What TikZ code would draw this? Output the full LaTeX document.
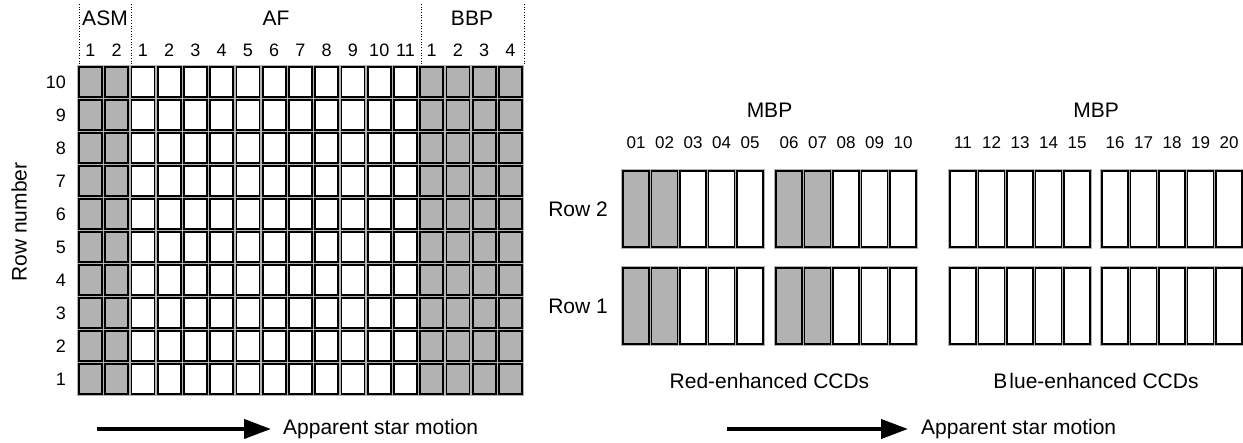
\documentclass[tikz,border=0pt]{standalone}
\usepackage{fontspec}
\setmainfont{Liberation Sans}
\usetikzlibrary{arrows.meta}
\newcommand\bigf{\fontsize{21}{25}\selectfont}
\newcommand\numf{\fontsize{18}{22}\selectfont}
\newcommand\mbpf{\fontsize{17}{20}\selectfont}
\definecolor{ccdgray}{RGB}{178,178,178}
\tikzset{
  cellbox/.style={draw=black, line width=1.6pt, inner sep=0pt, outer sep=0pt, anchor=north west,
    preaction={draw=black!30, line width=3.6pt}},
  grid cell/.style={cellbox, minimum width=23pt, minimum height=30pt},
  ccd cell/.style={cellbox, minimum width=26pt, minimum height=76pt},
  shaded/.style={fill=ccdgray},
  clear/.style={fill=white},
  big label/.style={font=\bigf, inner sep=0pt},
  num label/.style={font=\numf, inner sep=0pt},
  mbp num/.style={font=\mbpf, inner sep=0pt},
  sep line/.style={dotted, line width=0.7pt},
  motion arrow/.style={line width=4pt, -{Triangle[length=27pt,width=19pt]}}
}
\begin{document}
\begin{tikzpicture}[x=1pt,y=-1pt]
\useasboundingbox (0,0) rectangle (1243,443);
% ---------- left grid ----------
\foreach \c in {1,...,17}{
  \foreach \r in {1,...,10}{
    \ifnum\c<3 \def\st{shaded}\else\ifnum\c>13 \def\st{shaded}\else\def\st{clear}\fi\fi
    \node[grid cell, \st] (L-\c-\r) at ({79+26.25*(\c-1)},{67+33*(10-\r)}) {};
  }
}
% column numbers
\foreach \c/\t in {1/1,2/2,3/1,4/2,5/3,6/4,7/5,8/6,9/7,10/8,11/9,12/10,13/11,14/1,15/2,16/3,17/4}{
  \node[num label] (cn-\c) at ({79+26.25*(\c-1)+11.5},50) {\t};
}
% row numbers
\foreach \r in {1,...,10}{
  \node[num label, anchor=east] (rn-\r) at (66,{67+33*(10-\r)+15}) {\r};
}
\node[big label, rotate=90] (rowlab) at (19,222) {Row number};
% group headers
\node[big label] (asm) at (105,18) {ASM};
\node[big label] (af) at (276,18) {AF};
\node[big label] (bbp) at (472,18) {BBP};
% dotted separators
\coordinate (d1t) at (79,4);   \coordinate (d1b) at (79,64);
\coordinate (d2t) at (131.5,4);\coordinate (d2b) at (131.5,64);
\coordinate (d3t) at (421.5,4);\coordinate (d3b) at (421.5,64);
\coordinate (d4t) at (524,4);  \coordinate (d4b) at (524,64);
\foreach \i in {1,2,3,4}{ \draw[sep line] (d\i t) -- (d\i b); }
% left arrow
\coordinate (a1s) at (97,429);
\coordinate (a1e) at (271,429);
\draw[motion arrow] (a1s) -- (a1e);
\node[big label, anchor=west] (m1) at (283,429) {Apparent star motion};
% ---------- right CCDs ----------
\foreach \g/\x in {0/623,1/776,2/950,3/1102}{
  \foreach \k in {0,...,4}{
    \pgfmathtruncatemacro\n{\g*5+\k+1}
    \ifnum\g<2 \ifnum\k<2 \def\st{shaded}\else\def\st{clear}\fi\else\def\st{clear}\fi
    \node[ccd cell, \st] (R2-\n) at ({\x+28.5*\k},171) {};
    \node[ccd cell, \st] (R1-\n) at ({\x+28.5*\k},268) {};
    \ifnum\n<10 \def\lab{0\n}\else\def\lab{\n}\fi
    \node[mbp num] (mn-\n) at ({\x+28.5*\k+13},143) {\lab};
  }
}
\node[big label] (mbp1) at (769.5,110) {MBP};
\node[big label] (mbp2) at (1096,110) {MBP};
\node[big label, anchor=east] (row2) at (608,209) {Row 2};
\node[big label, anchor=east] (row1) at (608,306) {Row 1};
\node[big label] (red) at (769.5,381) {Red-enhanced CCDs};
\node[big label] (blue) at (1096,381) {B\kern2pt lue-enhanced CCDs};
% right arrow
\coordinate (a2s) at (727,429);
\coordinate (a2e) at (908,429);
\draw[motion arrow] (a2s) -- (a2e);
\node[big label, anchor=west] (m2) at (921,429) {Apparent star motion};
\end{tikzpicture}
\end{document}
